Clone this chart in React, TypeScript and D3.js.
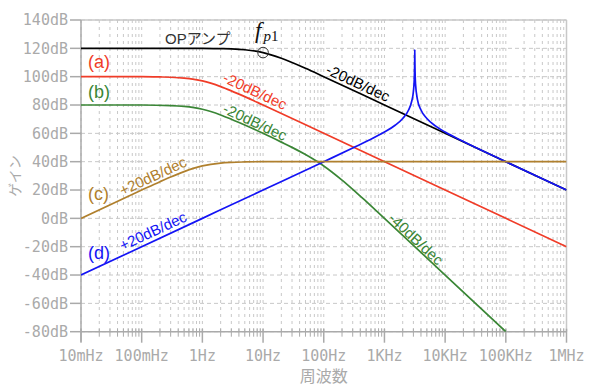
import React from "react";
import * as d3 from "d3";

// frequency (Hz) / gain (dB)
const opFreq = [0.01, 1, 2, 3, 5, 10, 20, 50, 100, 1000, 1e4, 1e5, 1e6];
const opGain = [120, 120, 119.8, 119.6, 119, 117, 113, 105.9, 100, 80, 60, 40, 20];

const aFreq = [0.01, 0.1, 0.2, 0.3, 0.5, 1, 2, 3, 5, 10, 100, 1e4, 1e6];
const aGain = [100, 100, 99.8, 99.6, 99, 97, 93, 90, 85.9, 80, 60, 20, -20];

const bFreq = [0.01, 0.1, 0.3, 0.5, 1, 2, 3, 5, 10, 20, 30, 50, 100, 200, 300, 500, 1000, 1e4, 1e5];
const bGain = [80, 80, 79.6, 79, 77, 73, 70, 65.9, 60, 53.8, 50.1, 45, 37, 27, 20.5, 11.9, 0, -40, -80];

const cFreq = [0.01, 0.1, 0.2, 0.3, 0.5, 1, 2, 3, 5, 10, 1e6];
const cGain = [0, 20, 25.9, 29.2, 33, 37, 39, 39.5, 39.8, 40, 40];

const dFreq = [0.01, 1, 10, 100, 300, 500, 1000, 1500, 2000, 2500, 2800, 3000, 3100, 3150, 3162, 3175, 3250, 3500, 4000, 5000, 7000, 1e4, 2e4, 1e5, 1e6];
const dGain = [-40, 0, 20, 40, 49.6, 54.2, 60.9, 65.7, 70.5, 76.5, 82.3, 89.5, 98, 111.4, 119, 111.1, 95.2, 83.8, 76.5, 70.5, 65.1, 60.9, 54.2, 40, 20];

const yTicks = [140, 120, 100, 80, 60, 40, 20, 0, -20, -40, -60, -80];
const xTicks = [0.01, 0.1, 1, 10, 100, 1e3, 1e4, 1e5, 1e6];
const xTickLabels = ["10mHz", "100mHz", "1Hz", "10Hz", "100Hz", "1KHz", "10KHz", "100KHz", "1MHz"];

const W = 600;
const H = 390;
const M = { left: 81, top: 20, right: 33.5, bottom: 58.3 };

export default function App() {
  const x = d3.scaleLog().domain([0.01, 1e6]).range([M.left, W - M.right]);
  const y = d3.scaleLinear().domain([-80, 140]).range([H - M.bottom, M.top]);

  const line = d3
    .line<[number, number]>()
    .x((d) => x(d[0]))
    .y((d) => y(d[1]))
    .curve(d3.curveMonotoneX);

  const series = [
    { f: opFreq, g: opGain, color: "#000000" },
    { f: aFreq, g: aGain, color: "#f03c28" },
    { f: bFreq, g: bGain, color: "#3a8636" },
    { f: dFreq, g: dGain, color: "#1414f5" },
    { f: cFreq, g: cGain, color: "#b0802e" },
  ];

  // minor grid positions 1..9 per decade
  const gridX: number[] = [];
  for (let e = -2; e < 6; e++) {
    for (let k = 1; k < 10; k++) gridX.push(k * Math.pow(10, e));
  }
  gridX.push(1e6);

  const x0 = x(0.01);
  const x1 = x(1e6);
  const yb = y(-80);
  const yt = y(140);

  const labelFont = "Liberation Sans, Noto Sans CJK JP, sans-serif";
  const cjkFont = "Noto Sans CJK JP, sans-serif";
  const monoFont = "DejaVu Sans Mono, monospace";

  return (
    <svg width={W} height={H} style={{ position: "absolute", left: 0, top: 0, background: "#fff" }}>
      <defs>
        <clipPath id="plot">
          <rect x={x0} y={yt} width={x1 - x0} height={yb - yt} />
        </clipPath>
      </defs>

      {/* grid */}
      {gridX.map((f, i) => (
        <line key={"gx" + i} x1={x(f)} x2={x(f)} y1={yt} y2={yb} stroke="#c8c8c8" strokeWidth={1} strokeDasharray="3,4" />
      ))}
      {yTicks.map((t) => (
        <line key={"gy" + t} x1={x0} x2={x1} y1={y(t)} y2={y(t)} stroke="#c8c8c8" strokeWidth={1} strokeDasharray="4,3" />
      ))}

      {/* frame */}
      <line x1={x0} x2={x1} y1={yt} y2={yt} stroke="#c8c8c8" strokeWidth={1.5} />
      <line x1={x1} x2={x1} y1={yt} y2={yb} stroke="#c8c8c8" strokeWidth={1.5} />
      <line x1={x0} x2={x0} y1={yt} y2={yb + 10} stroke="#aaaaaa" strokeWidth={1.5} />
      <line x1={x0} x2={x1} y1={yb} y2={yb} stroke="#aaaaaa" strokeWidth={1.5} />

      {/* y ticks */}
      {yTicks.map((t) => (
        <g key={"yt" + t}>
          <line x1={x0 - 11} x2={x0} y1={y(t)} y2={y(t)} stroke="#aaaaaa" strokeWidth={1.5} />
          <text x={x0 - 13} y={y(t)} dy="0.35em" textAnchor="end" fontFamily={monoFont} fontSize={15} fill="#aaaaaa">
            {t + "dB"}
          </text>
        </g>
      ))}

      {/* x ticks */}
      {gridX.map((f, i) => {
        const major = xTicks.some((t) => Math.abs(Math.log10(t) - Math.log10(f)) < 1e-6);
        return (
          <line key={"xt" + i} x1={x(f)} x2={x(f)} y1={yb - 3} y2={yb + (major ? 11 : 5)} stroke="#aaaaaa" strokeWidth={major ? 1.5 : 1} />
        );
      })}
      {xTickLabels.map((lab, i) => (
        <text key={"xl" + i} x={x(xTicks[i])} y={yb + 29} textAnchor="middle" fontFamily={monoFont} fontSize={15} fill="#aaaaaa">
          {lab}
        </text>
      ))}

      {/* axis titles */}
      <text x={(x0 + x1) / 2} y={382} textAnchor="middle" fontFamily={cjkFont} fontSize={16} fill="#aaaaaa">
        周波数
      </text>
      <text transform="translate(15,176) rotate(-90)" textAnchor="middle" dy="0.35em" fontFamily={cjkFont} fontSize={14} fill="#aaaaaa">
        ゲイン
      </text>

      {/* curves */}
      <g clipPath="url(#plot)">
        {series.map((s, i) => (
          <path
            key={i}
            d={line(s.f.map((f, j) => [f, s.g[j]] as [number, number])) || ""}
            fill="none"
            stroke={s.color}
            strokeWidth={1.7}
          />
        ))}
      </g>

      {/* fp1 marker */}
      <circle cx={x(10)} cy={y(117)} r={5.3} fill="none" stroke="#333" strokeWidth={1} />
      <text x={255} y={38} fontFamily="Liberation Serif, serif" fill="#111">
        <tspan fontSize={23} fontStyle="italic">f</tspan>
        <tspan fontSize={15} fontStyle="italic" dx={2} dy={3}>p</tspan>
        <tspan fontSize={15}>1</tspan>
      </text>
      <text x={165} y={44} fontFamily={labelFont} fontSize={15} fill="#333">
        OPアンプ
      </text>

      {/* curve labels */}
      <text x={88} y={68} fontFamily={labelFont} fontSize={18} fill="#f03c28">(a)</text>
      <text x={88} y={98} fontFamily={labelFont} fontSize={18} fill="#3a8636">(b)</text>
      <text x={88} y={200} fontFamily={labelFont} fontSize={18} fill="#b0802e">(c)</text>
      <text x={88} y={259} fontFamily={labelFont} fontSize={18} fill="#1414f5">(d)</text>

      <text transform="translate(255,91) rotate(25)" textAnchor="middle" dy="0.35em" fontFamily={labelFont} fontSize={15} fill="#f03c28">-20dB/dec</text>
      <text transform="translate(255,122) rotate(25)" textAnchor="middle" dy="0.35em" fontFamily={labelFont} fontSize={15} fill="#3a8636">-20dB/dec</text>
      <text transform="translate(358,83) rotate(25)" textAnchor="middle" dy="0.35em" fontFamily={labelFont} fontSize={15} fill="#000">-20dB/dec</text>
      <text transform="translate(153,176) rotate(-25)" textAnchor="middle" dy="0.35em" fontFamily={labelFont} fontSize={15} fill="#b0802e">+20dB/dec</text>
      <text transform="translate(153,231) rotate(-25)" textAnchor="middle" dy="0.35em" fontFamily={labelFont} fontSize={15} fill="#1414f5">+20dB/dec</text>
      <text transform="translate(416,239) rotate(43)" textAnchor="middle" dy="0.35em" fontFamily={labelFont} fontSize={15} fill="#3a8636">-40dB/dec</text>
    </svg>
  );
}
